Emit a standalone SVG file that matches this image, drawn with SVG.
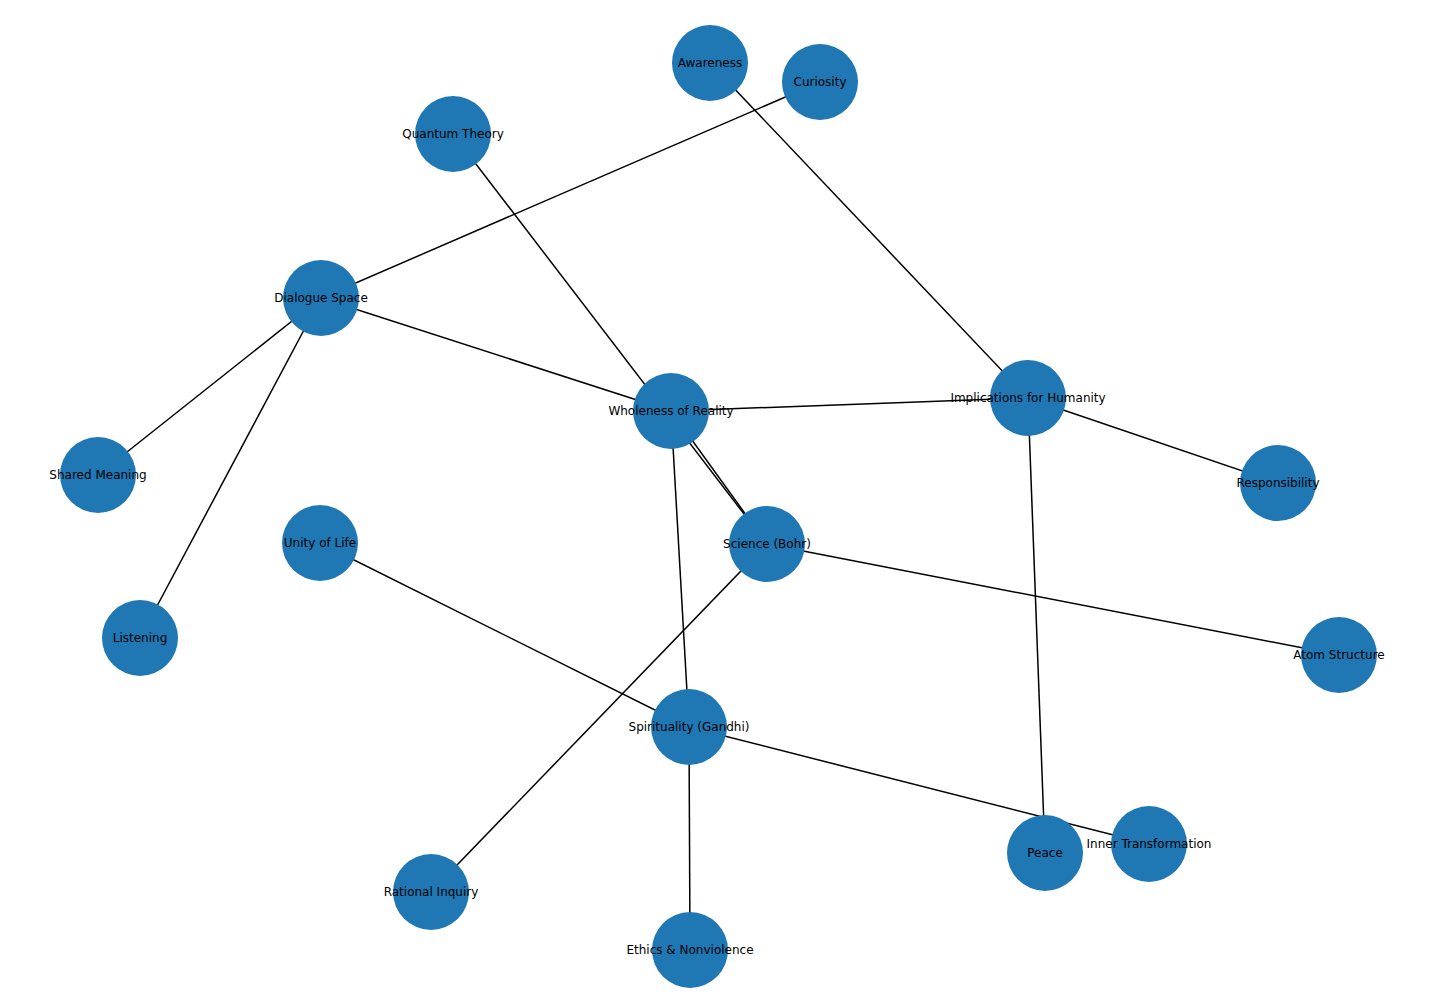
<svg xmlns="http://www.w3.org/2000/svg" width="1456" height="1007" viewBox="0 0 1456 1007">
<style>
.e{stroke:#000;stroke-width:1.5;fill:none}
.n circle{fill:#1f77b4}
.n text{font-family:"DejaVu Sans",sans-serif;font-size:12px;fill:#000;text-anchor:middle;dominant-baseline:central}
</style>
<rect width="1456" height="1007" fill="#fff"/>
<g id="edges">
<line class="e" x1="820" y1="82" x2="321" y2="298"/>
<line class="e" x1="710" y1="63" x2="1028" y2="398"/>
<line class="e" x1="453" y1="134" x2="767" y2="544"/>
<line class="e" x1="321" y1="298" x2="671" y2="411"/>
<line class="e" x1="321" y1="298" x2="98" y2="475"/>
<line class="e" x1="321" y1="298" x2="140" y2="638"/>
<line class="e" x1="671" y1="411" x2="1028" y2="398"/>
<line class="e" x1="671" y1="411" x2="767" y2="544"/>
<line class="e" x1="671" y1="411" x2="689" y2="727"/>
<line class="e" x1="1028" y1="398" x2="1278" y2="483"/>
<line class="e" x1="1028" y1="398" x2="1045" y2="853"/>
<line class="e" x1="767" y1="544" x2="1339" y2="655"/>
<line class="e" x1="767" y1="544" x2="431" y2="892"/>
<line class="e" x1="320" y1="543" x2="689" y2="727"/>
<line class="e" x1="689" y1="727" x2="1149" y2="844"/>
<line class="e" x1="689" y1="727" x2="690" y2="950"/>
</g>
<g id="n-awareness" class="n"><circle cx="710" cy="63" r="38"/><text x="710" y="63">Awareness</text></g>
<g id="n-curiosity" class="n"><circle cx="820" cy="82" r="38"/><text x="820" y="82">Curiosity</text></g>
<g id="n-quantum" class="n"><circle cx="453" cy="134" r="38"/><text x="453" y="134">Quantum Theory</text></g>
<g id="n-dialogue" class="n"><circle cx="321" cy="298" r="38"/><text x="321" y="298">Dialogue Space</text></g>
<g id="n-wholeness" class="n"><circle cx="671" cy="411" r="38"/><text x="671" y="411">Wholeness of Reality</text></g>
<g id="n-implications" class="n"><circle cx="1028" cy="398" r="38"/><text x="1028" y="398">Implications for Humanity</text></g>
<g id="n-shared" class="n"><circle cx="98" cy="475" r="38"/><text x="98" y="475">Shared Meaning</text></g>
<g id="n-responsibility" class="n"><circle cx="1278" cy="483" r="38"/><text x="1278" y="483">Responsibility</text></g>
<g id="n-unity" class="n"><circle cx="320" cy="543" r="38"/><text x="320" y="543">Unity of Life</text></g>
<g id="n-science" class="n"><circle cx="767" cy="544" r="38"/><text x="767" y="544">Science (Bohr)</text></g>
<g id="n-listening" class="n"><circle cx="140" cy="638" r="38"/><text x="140" y="638">Listening</text></g>
<g id="n-atom" class="n"><circle cx="1339" cy="655" r="38"/><text x="1339" y="655">Atom Structure</text></g>
<g id="n-spirituality" class="n"><circle cx="689" cy="727" r="38"/><text x="689" y="727">Spirituality (Gandhi)</text></g>
<g id="n-peace" class="n"><circle cx="1045" cy="853" r="38"/><text x="1045" y="853">Peace</text></g>
<g id="n-inner" class="n"><circle cx="1149" cy="844" r="38"/><text x="1149" y="844">Inner Transformation</text></g>
<g id="n-rational" class="n"><circle cx="431" cy="892" r="38"/><text x="431" y="892">Rational Inquiry</text></g>
<g id="n-ethics" class="n"><circle cx="690" cy="950" r="38"/><text x="690" y="950">Ethics &amp; Nonviolence</text></g>
</svg>
